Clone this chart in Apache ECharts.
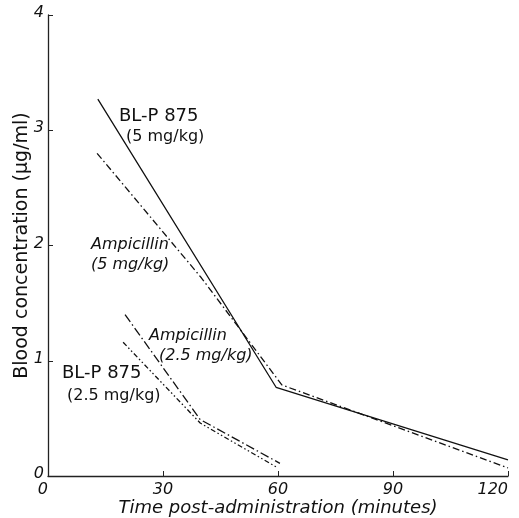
<!DOCTYPE html>
<html>
<head>
<meta charset="utf-8">
<script src="https://cdn.jsdelivr.net/npm/echarts@6/dist/echarts.min.js"></script>
<style>
html,body{margin:0;padding:0;background:#fff;}
#chart{width:519px;height:518px;}
</style>
</head>
<body>
<div id="chart"></div>
<script>
// time (minutes) / blood concentration (ug/ml)
var blp5 = [[13, 3.27], [59.5, 0.77], [120, 0.14]];
var amp5 = [[12.8, 2.80], [40, 1.72], [61, 0.79], [120, 0.07]];
var amp25 = [[20.1, 1.40], [39.7, 0.49], [60.5, 0.11]];
var blp25 = [[19.6, 1.16], [39.7, 0.46], [60, 0.07]];

var xTicks = [0, 30, 60, 90, 120];
var yTicks = [0, 1, 2, 3, 4];

var font = 'DejaVu Sans';

function lineSeries(data, dash) {
	return {
		type: 'line',
		data: data,
		symbol: 'none',
		silent: true,
		lineStyle: {color: '#111', width: 1.3, type: dash}
	};
}

function label(text, x, y, italic, size) {
	return {
		type: 'text', left: x, top: y,
		style: {text: text, font: (italic ? 'italic ' : '') + (size || 16) + 'px ' + font, fill: '#111'}
	};
}

var myChart = echarts.init(document.getElementById('chart'));

var option = {
	animation: false,
	backgroundColor: '#fff',
	grid: {left: 48, right: 11, top: 15, bottom: 42, containLabel: false, outerBoundsMode: 'none'},
	xAxis: {
		type: 'value',
		min: 0, max: 120, interval: 30,
		axisLine: {lineStyle: {color: '#222', width: 1.3}},
		axisTick: {inside: true, length: 5, lineStyle: {color: '#222'}},
		splitLine: {show: false},
		axisLabel: {
			color: '#111', fontSize: 16, fontStyle: 'italic', fontFamily: font, margin: 6,
			alignMinLabel: 'right', alignMaxLabel: 'right',
			formatter: function(v){ return xTicks.indexOf(v) >= 0 ? String(v) : ''; }
		},
		name: 'Time post-administration (minutes)',
		nameLocation: 'middle', nameGap: 23, nameMoveOverlap: false,
		nameTextStyle: {color: '#111', fontSize: 18, fontStyle: 'italic', fontFamily: font}
	},
	yAxis: {
		type: 'value',
		min: 0, max: 4, interval: 1,
		axisLine: {show: true, lineStyle: {color: '#222', width: 1.3}},
		axisTick: {show: true, inside: true, length: 5, lineStyle: {color: '#222'}},
		splitLine: {show: false},
		axisLabel: {
			color: '#111', fontSize: 16, fontStyle: 'italic', fontFamily: font, margin: 4,
			verticalAlign: 'bottom', lineHeight: 4,
			formatter: function(v){ return yTicks.indexOf(v) >= 0 ? String(v) : ''; }
		},
		name: 'Blood concentration (\u03bcg/ml)',
		nameLocation: 'middle', nameGap: 16, nameMoveOverlap: false,
		nameTextStyle: {color: '#111', fontSize: 19, fontFamily: font}
	},
	series: [
		lineSeries(blp5, 'solid'),
		lineSeries(amp5, [7, 3, 1.5, 3]),
		lineSeries(amp25, [9, 3, 1.5, 3]),
		lineSeries(blp25, [5, 2.5, 1.5, 2.5, 1.5, 2.5])
	],
	graphic: [
		label('BL-P 875', 119, 107, false, 18),
		label('(5 mg/kg)', 126, 129, false),
		label('Ampicillin', 91, 237, true),
		label('(5 mg/kg)', 91, 257, true),
		label('Ampicillin', 149, 328, true),
		label('(2.5 mg/kg)', 159, 348, true),
		label('BL-P 875', 62, 364, false, 18),
		label('(2.5 mg/kg)', 67, 388, false)
	]
};

myChart.setOption(option, true);
</script>
</body>
</html>
